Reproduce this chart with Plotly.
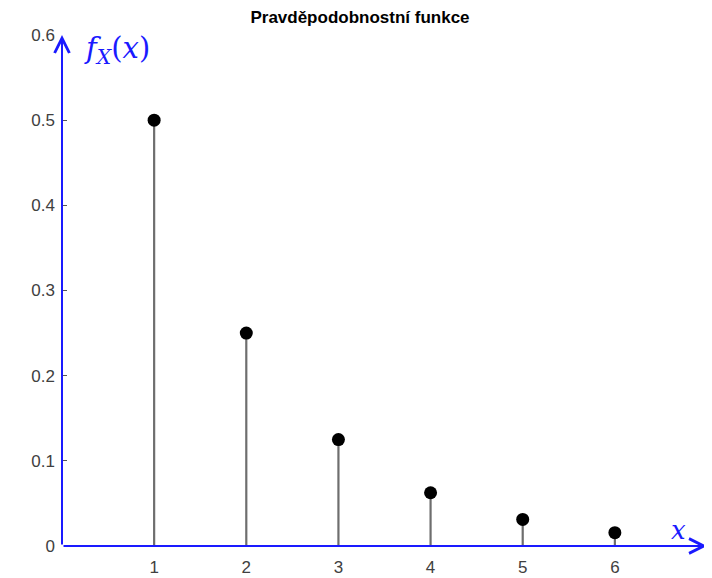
import plotly.graph_objects as go

x_vals = [1, 2, 3, 4, 5, 6]
p_vals = [0.5, 0.25, 0.125, 0.0625, 0.03125, 0.015625]
x_ticks = [1, 2, 3, 4, 5, 6]
y_ticks = [0, 0.1, 0.2, 0.3, 0.4, 0.5, 0.6]
y_ticklabels = ["0", "0.1", "0.2", "0.3", "0.4", "0.5", "0.6"]
title_text = "Pravděpodobnostní funkce"

X_MAX = 7
Y_MAX = 0.6
BLUE = "#1a1aff"

stem_x, stem_y = [], []
for xv, pv in zip(x_vals, p_vals):
    stem_x += [xv, xv, None]
    stem_y += [0, pv, None]

fig = go.Figure()
fig.add_trace(go.Scatter(x=stem_x, y=stem_y, mode="lines",
                         line=dict(color="#6e6e6e", width=2.2),
                         hoverinfo="skip", showlegend=False))
fig.add_trace(go.Scatter(x=x_vals, y=p_vals, mode="markers",
                         marker=dict(color="black", size=13),
                         showlegend=False))

# axes with arrows
fig.add_annotation(x=X_MAX, y=0, ax=0, ay=0, xref="x", yref="y", axref="x", ayref="y",
                   showarrow=True, arrowhead=5, arrowsize=1.45, arrowwidth=2,
                   arrowcolor=BLUE, text="")
fig.add_annotation(x=0, y=Y_MAX, ax=0, ay=0, xref="x", yref="y", axref="x", ayref="y",
                   showarrow=True, arrowhead=5, arrowsize=1.45, arrowwidth=2,
                   arrowcolor=BLUE, text="")

fig.add_annotation(x=0, y=Y_MAX, xref="x", yref="y", xanchor="left", yanchor="middle",
                   xshift=20, yshift=-15, showarrow=False,
                   text="<i>f</i><sub><i>X</i></sub>(<i>x</i>)",
                   font=dict(family="DejaVu Serif", size=29, color=BLUE))
fig.add_annotation(x=X_MAX, y=0, xref="x", yref="y", xanchor="center", yanchor="middle",
                   xshift=-29, yshift=16, showarrow=False,
                   text="<i>x</i>",
                   font=dict(family="DejaVu Serif", size=26, color=BLUE))

fig.update_layout(
    width=704, height=570,
    margin=dict(l=54, r=5, t=27, b=32),
    paper_bgcolor="white", plot_bgcolor="white",
    title=dict(text="<b>" + title_text + "</b>", x=0.5, xanchor="center",
               y=1 - 9 / 570, yanchor="middle",
               font=dict(family="Liberation Sans", size=17, color="black")),
    font=dict(family="Liberation Sans", size=17, color="#404040"),
    xaxis=dict(range=[0, X_MAX], tickvals=x_ticks, showgrid=False, zeroline=False,
               showline=False, ticks="", ticklabelstandoff=9, automargin=False),
    yaxis=dict(range=[0, Y_MAX], tickvals=y_ticks, ticktext=y_ticklabels,
               showgrid=False, zeroline=False, showline=False, automargin=False,
               ticks="inside", ticklen=5, tickcolor="#555555", ticklabelstandoff=6),
)

fig.write_html("out.html")
